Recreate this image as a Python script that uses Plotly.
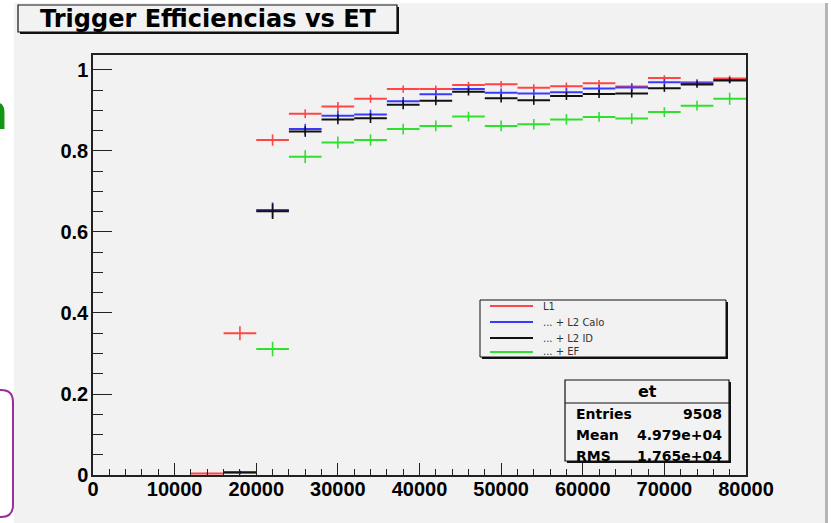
import plotly.graph_objects as go

# ---------------- data ----------------
bin_centers = [14000, 18000, 22000, 26000, 30000, 34000, 38000, 42000, 46000,
               50000, 54000, 58000, 62000, 66000, 70000, 74000, 78000]
bin_half_width = 2000

eff_L1 = [0.004, 0.350, 0.827, 0.892, 0.910, 0.929, 0.953, 0.953, 0.963,
          0.965, 0.956, 0.960, 0.967, 0.959, 0.980, 0.970, 0.979]
err_L1 = [0.003, 0.017, 0.014, 0.011, 0.011, 0.010, 0.009, 0.009, 0.008,
          0.008, 0.009, 0.009, 0.008, 0.009, 0.007, 0.008, 0.007]

eff_L2Calo = [None, 0.007, 0.654, 0.854, 0.887, 0.890, 0.923, 0.940, 0.953,
              0.944, 0.942, 0.945, 0.954, 0.957, 0.970, 0.967, 0.975]
err_L2Calo = [0, 0.004, 0.019, 0.013, 0.012, 0.012, 0.010, 0.010, 0.009,
              0.010, 0.010, 0.010, 0.009, 0.009, 0.008, 0.008, 0.007]

eff_L2ID = [None, 0.006, 0.651, 0.848, 0.878, 0.881, 0.914, 0.924, 0.946,
            0.930, 0.925, 0.936, 0.941, 0.942, 0.955, 0.964, 0.974]
err_L2ID = [0, 0.004, 0.019, 0.013, 0.012, 0.012, 0.011, 0.011, 0.009,
            0.010, 0.011, 0.010, 0.010, 0.010, 0.009, 0.008, 0.007]

eff_EF = [None, None, 0.311, 0.786, 0.821, 0.827, 0.854, 0.862, 0.885,
          0.862, 0.866, 0.878, 0.884, 0.880, 0.896, 0.912, 0.929]
err_EF = [0, 0, 0.018, 0.016, 0.015, 0.014, 0.013, 0.013, 0.012,
          0.013, 0.013, 0.013, 0.012, 0.013, 0.012, 0.012, 0.015]

series_names = ["L1", "... + L2 Calo", "... + L2 ID", "... + EF"]
series_colors = ["#ff4545", "#3a3aff", "#111111", "#2fe02f"]

x_tick_vals = [0, 10000, 20000, 30000, 40000, 50000, 60000, 70000, 80000]
y_tick_vals = [0, 0.2, 0.4, 0.6, 0.8, 1]

title_text = "Trigger Efficiencias vs ET"
stats_title = "et"
stats_labels = ["Entries", "Mean", "RMS"]
stats_values = ["9508", "4.979e+04", "1.765e+04"]

# ---------------- layout geometry ----------------
W, H = 831, 523
L, R, T, B = 93, 85, 55, 48
PW, PH = W - L - R, H - T - B


def px(x):
    return (x - L) / PW


def py(y):
    return (H - B - y) / PH


fig = go.Figure()

for vals, errs, name, col in zip([eff_L1, eff_L2Calo, eff_L2ID, eff_EF],
                                 [err_L1, err_L2Calo, err_L2ID, err_EF],
                                 series_names, series_colors):
    fig.add_trace(go.Scatter(
        x=bin_centers, y=vals, name=name, mode="markers",
        marker=dict(size=0.1, color=col),
        error_x=dict(type="constant", value=bin_half_width, width=0,
                     thickness=2, color=col),
        error_y=dict(type="data", array=errs, width=0, thickness=1.6,
                     color=col),
        showlegend=False,
    ))

shapes = []
ann = []
BG = "#f2f2f2"

# canvas background
shapes.append(dict(type="rect", xref="paper", yref="paper", layer="below",
                   x0=px(14), x1=px(825), y0=py(3), y1=py(523),
                   fillcolor=BG, line=dict(width=0)))
# right border of canvas
shapes.append(dict(type="rect", xref="paper", yref="paper", layer="below",
                   x0=px(825), x1=px(828), y0=py(3), y1=py(523),
                   fillcolor="#b5b5b5", line=dict(width=0)))


def shadow_box(x0, y0, x1, y1, lw=1.2):
    shapes.append(dict(type="rect", xref="paper", yref="paper",
                       x0=px(x0 + 2), x1=px(x1 + 2), y0=py(y0 + 2), y1=py(y1 + 2),
                       fillcolor="#111111", line=dict(width=0)))
    shapes.append(dict(type="rect", xref="paper", yref="paper",
                       x0=px(x0), x1=px(x1), y0=py(y0), y1=py(y1),
                       fillcolor=BG, line=dict(width=lw, color="#111111")))


# title box
shadow_box(18, 5, 397, 32)
ann.append(dict(text=title_text, xref="paper", yref="paper",
                x=px(208), y=py(19), xanchor="center", yanchor="middle",
                showarrow=False,
                font=dict(family="DejaVu Sans", size=24, color="black",
                          weight="bold")))

# legend box
shadow_box(480, 300, 726, 357, lw=1)
leg_rows = [306, 322, 338, 352]
for name, col, yy in zip(series_names, series_colors, leg_rows):
    shapes.append(dict(type="line", xref="paper", yref="paper",
                       x0=px(490), x1=px(533), y0=py(yy), y1=py(yy),
                       line=dict(color=col, width=2)))
    ann.append(dict(text=name, xref="paper", yref="paper",
                    x=px(541), y=py(yy), xanchor="left", yanchor="middle",
                    showarrow=False,
                    font=dict(family="DejaVu Sans", size=10, color="#333333")))

# stats box
shadow_box(565, 380, 729, 461)
shapes.append(dict(type="line", xref="paper", yref="paper",
                   x0=px(565), x1=px(729), y0=py(403), y1=py(403),
                   line=dict(color="#111111", width=1.2)))
ann.append(dict(text=stats_title, xref="paper", yref="paper",
                x=px(647), y=py(391), xanchor="center", yanchor="middle",
                showarrow=False,
                font=dict(family="DejaVu Sans", size=16, color="black",
                          weight="bold")))
for lab, val, yy in zip(stats_labels, stats_values, [414, 435, 456]):
    ann.append(dict(text=lab, xref="paper", yref="paper",
                    x=px(574), y=py(yy), xanchor="left", yanchor="middle",
                    showarrow=False,
                    font=dict(family="DejaVu Sans", size=14, color="black",
                              weight="bold")))
    ann.append(dict(text=val, xref="paper", yref="paper",
                    x=px(724), y=py(yy), xanchor="right", yanchor="middle",
                    showarrow=False,
                    font=dict(family="DejaVu Sans", size=14, color="black",
                              weight="bold")))

# cut-off fragment of a green letter at the left edge of the screenshot
ann.append(dict(text="n", xref="paper", yref="paper",
                x=px(9), y=py(112), xanchor="right", yanchor="middle",
                showarrow=False, borderpad=0,
                font=dict(family="Liberation Sans", size=50, color="#149414",
                          weight="bold")))
r = 12
x_r, y_t, y_b = 13, 390, 517
path = (f"M {px(-30)},{py(y_t)} L {px(x_r - r)},{py(y_t)} "
        f"Q {px(x_r)},{py(y_t)} {px(x_r)},{py(y_t + r)} "
        f"L {px(x_r)},{py(y_b - r)} "
        f"Q {px(x_r)},{py(y_b)} {px(x_r - r)},{py(y_b)} "
        f"L {px(-30)},{py(y_b)}")
shapes.append(dict(type="path", xref="paper", yref="paper", path=path,
                   line=dict(color="#9a2e9a", width=2)))

tick_font = dict(family="Liberation Sans", size=20, color="black",
                 weight="bold")

fig.update_layout(
    width=W, height=H,
    margin=dict(l=L, r=R, t=T, b=B, pad=0),
    paper_bgcolor="white",
    plot_bgcolor=BG,
    shapes=shapes,
    annotations=ann,
    showlegend=False,
    xaxis=dict(
        range=[0, 80000], tickvals=x_tick_vals,
        ticktext=[str(v) for v in x_tick_vals],
        ticks="inside", ticklen=12, tickwidth=1, tickcolor="#222222",
        minor=dict(dtick=2000, tick0=0, ticks="inside", ticklen=6,
                   tickcolor="#222222", showgrid=False),
        showgrid=False, zeroline=False,
        showline=True, linecolor="#222222", linewidth=1.5, mirror=True,
        tickfont=tick_font, ticklabelstandoff=-5,
    ),
    yaxis=dict(
        range=[0, 1.037], tickvals=y_tick_vals,
        ticktext=["0", "0.2", "0.4", "0.6", "0.8", "1"],
        ticks="inside", ticklen=19, tickwidth=1, tickcolor="#222222",
        minor=dict(dtick=0.05, tick0=0, ticks="inside", ticklen=10,
                   tickcolor="#222222", showgrid=False),
        showgrid=False, zeroline=False,
        showline=True, linecolor="#222222", linewidth=1.5, mirror=True,
        tickfont=tick_font, ticklabelstandoff=-1,
    ),
)

fig.write_html("out.html")
